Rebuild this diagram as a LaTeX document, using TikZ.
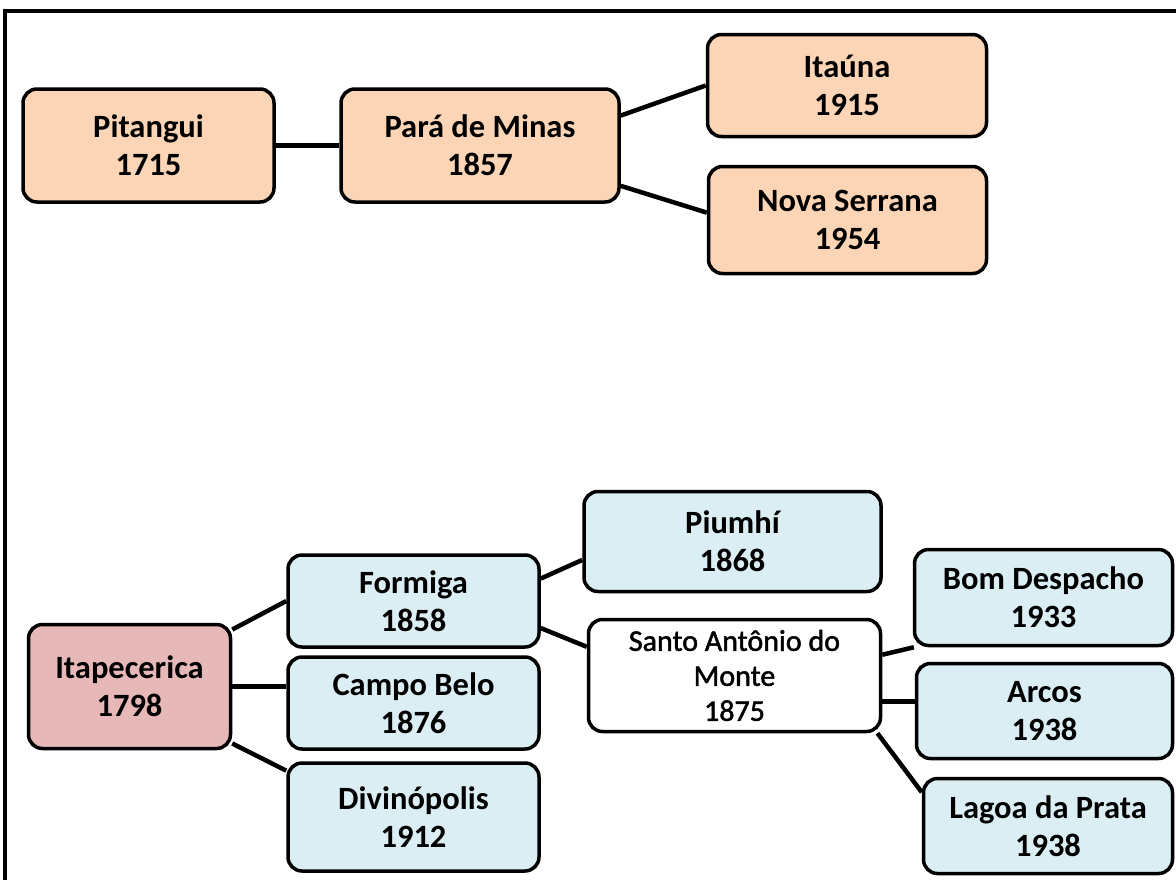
\documentclass[tikz,border=0pt]{standalone}
\usepackage{fontspec}
\setmainfont{Carlito}
\newfontface\samface[FakeBold=1.6]{Carlito}
\usepackage{xcolor}
\usepackage{tikz}
\definecolor{peach}{HTML}{FBD5B5}
\definecolor{skyb}{HTML}{DBEEF4}
\definecolor{rosy}{HTML}{E6B9B8}
\tikzset{
  town/.style={draw=black, line width=3.5pt, rounded corners=14pt, align=center,
    inner sep=0pt, font=\fontsize{32.5}{38}\selectfont\bfseries},
  old/.style={town, fill=peach},
  sub/.style={town, fill=skyb},
  root/.style={town, fill=rosy},
  hub/.style={town, fill=white, font=\samface\fontsize{30}{35}\selectfont},
  link/.style={draw=black, line width=4.5pt},
  frame/.style={draw=black, line width=3.5pt}
}
\begin{document}
\begin{tikzpicture}[x=1pt,y=-1pt]
  \useasboundingbox (0,0) rectangle (1176,879);
  \draw[frame] (5,890) |- (1190,11);
  % upper tree
  \node[old, minimum width=251, minimum height=113] (pit) at (148.5,145.5) {Pitangui\\1715};
  \node[old, minimum width=278, minimum height=113] (pdm) at (480,145.5) {Pará de Minas\\1857};
  \node[old, minimum width=279, minimum height=102] (ita) at (847,85.5) {Itaúna\\1915};
  \node[old, minimum width=278, minimum height=107] (nsr) at (847.5,220) {Nova Serrana\\1954};
  \draw[link] (pit.east) -- (pdm.west);
  \draw[link] (pdm.12) -- (ita.180);
  \draw[link] (pdm.-16) -- (nsr.177);
  % lower tree
  \node[root, minimum width=202, minimum height=124] (itp) at (129.5,686.5) {Itapecerica\\1798};
  \node[sub, minimum width=251, minimum height=92] (frm) at (413.5,601) {Formiga\\1858};
  \node[sub, minimum width=251, minimum height=92] (cbl) at (413.5,703) {Campo Belo\\1876};
  \node[sub, minimum width=251, minimum height=108] (div) at (413.5,817) {Divinópolis\\1912};
  \node[sub, minimum width=297, minimum height=100] (pmh) at (732.5,541.5) {Piumhí\\1868};
  \node[hub, minimum width=292, minimum height=112] (sam) at (734.5,675.5) {Santo Antônio do\\Monte\\1875};
  \node[sub, minimum width=258, minimum height=96] (bdp) at (1043.5,597.5) {Bom Despacho\\1933};
  \node[sub, minimum width=256, minimum height=95] (arc) at (1044.5,711) {Arcos\\1938};
  \node[sub, minimum width=249, minimum height=95] (lgp) at (1048,826) {Lagoa da Prata\\1938};
  \draw[link] (itp.29) -- (frm.180);
  \draw[link] (itp.east) -- (itp.east -| cbl.west);
  \draw[link] (itp.-29) -- (div.160);
  \draw[link] (frm.10) -- (pmh.187);
  \draw[link] (frm.-12) -- (sam.169);
  \draw[link] (sam.8) -- (bdp.201);
  \draw[link] (sam.-10) -- (sam.-10 -| arc.west);
  \draw[link] (sam.-22) -- (lgp.165);
\end{tikzpicture}
\end{document}
